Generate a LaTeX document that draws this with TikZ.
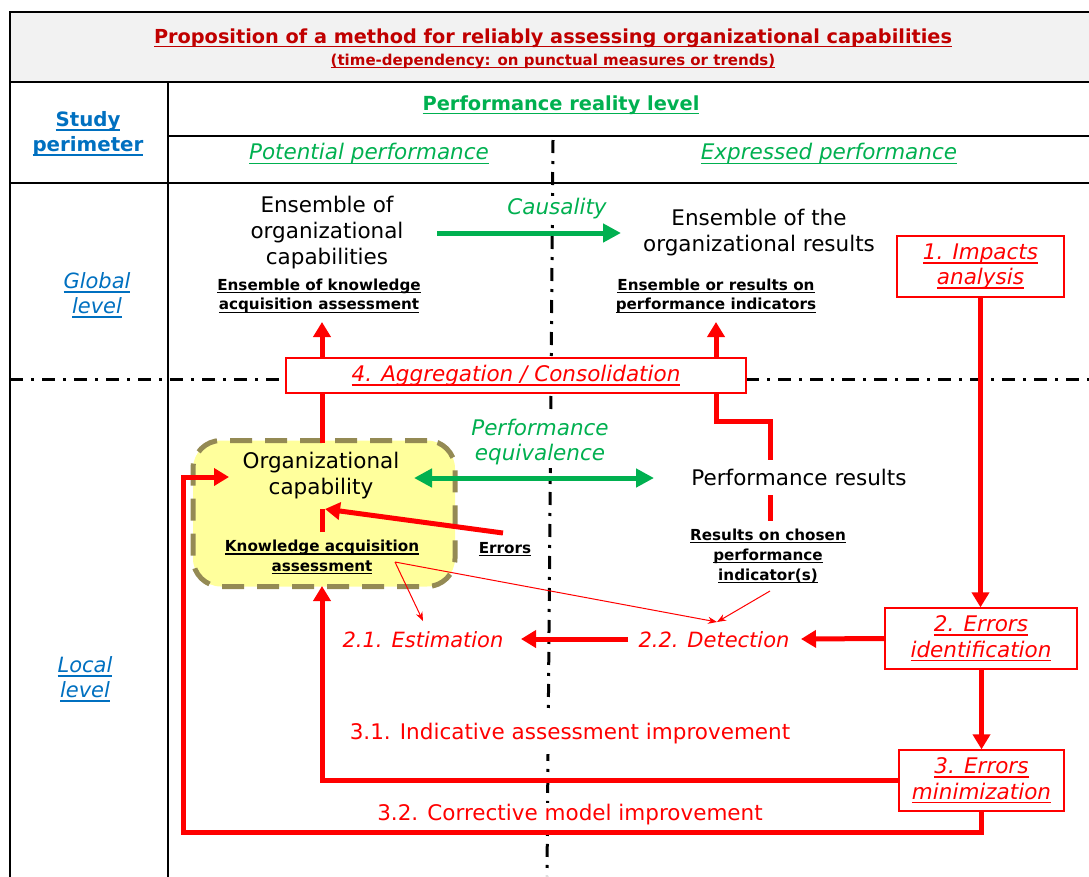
\documentclass[tikz,border=0pt]{standalone}
\usepackage{fontspec}
\setmainfont{DejaVu Sans}
\usetikzlibrary{arrows.meta}
\definecolor{tred}{HTML}{C00000}
\definecolor{ggreen}{HTML}{00B050}
\definecolor{bblue}{HTML}{0070C0}
\definecolor{bandgray}{HTML}{F2F2F2}
\definecolor{yfill}{HTML}{FFFF9C}
\definecolor{yedge}{HTML}{948A54}
\newcommand\myul[1]{\setbox0=\hbox{#1}\leavevmode\rlap{\rule[-0.2em]{\wd0}{0.08em}}\box0}
\tikzset{
  lbl/.style={inner sep=1pt, align=center},
  blk/.style={lbl, font=\fontsize{21.5}{26}\selectfont},
  bul/.style={lbl, font=\bfseries\fontsize{15.2}{19.5}\selectfont},
  rtxt/.style={lbl, text=red, font=\itshape\fontsize{21}{26}\selectfont},
  rbox/.style={draw=red, line width=1.3pt, fill=white, text=red, font=\itshape\fontsize{21.5}{25.5}\selectfont, align=center, inner sep=0pt},
  gtxt/.style={lbl, text=ggreen, font=\itshape\fontsize{21.5}{25}\selectfont},
  btxt/.style={lbl, text=bblue, font=\itshape\fontsize{21}{25}\selectfont},
  thk/.style={draw=red, line width=5pt},
  arr/.style={-{Triangle[length=15pt,width=17pt]}},
  thn/.style={draw=red, line width=1pt, -{Stealth[length=9pt,width=7pt]}},
  grn/.style={draw=ggreen, line width=5pt},
  garr/.style={-{Triangle[length=18pt,width=18pt]}},
  gdbl/.style={{Triangle[length=18pt,width=18pt]}-{Triangle[length=18pt,width=18pt]}},
  ddash/.style={line width=3pt, dash pattern=on 13pt off 8pt on 3pt off 8pt},
  frame/.style={line width=2.5pt, draw=black},
}
\begin{document}
\begin{tikzpicture}[x=1pt,y=-1pt]
\useasboundingbox (0,0) rectangle (1089,876);
\clip (0,0) rectangle (1089,876);
% ---------- grid ----------
\fill[bandgray] (10,12) rectangle (1100,82);
\draw[frame] (10,900) -- (10,12) -- (1100,12);
\draw[frame] (10,82) -- (1100,82);
\draw[frame] (10,183) -- (1100,183);
\draw[frame] (168,136) -- (1100,136);
\draw[frame] (168,82) -- (168,900);
% ---------- dash-dot separators ----------
\draw[ddash] (553,140) -- (547,876);
\draw[ddash] (10,379) -- (1089,379);
% ---------- headers ----------
\node[lbl, text=tred, font=\bfseries\fontsize{19.3}{22}\selectfont] (title) at (553,38) {\myul{Proposition of a method for reliably assessing organizational capabilities}};
\node[lbl, text=tred, font=\bfseries\fontsize{15}{17}\selectfont] (subtitle) at (553,61) {\myul{(time-dependency: on punctual measures or trends)}};
\node[lbl, text=ggreen, font=\bfseries\fontsize{19.4}{22}\selectfont] (reality) at (561,105) {\myul{Performance reality level}};
\node[gtxt] (potential) at (369,154) {\myul{Potential performance}};
\node[gtxt] (expressed) at (829,154) {\myul{Expressed performance}};
\node[lbl, text=bblue, font=\bfseries\fontsize{19.8}{25}\selectfont] (study) at (88,134) {\myul{Study}\\\myul{perimeter}};
\node[btxt] (global) at (97,295) {\myul{Global}\\\myul{level}};
\node[btxt] (local) at (85,679) {\myul{Local}\\\myul{level}};
% ---------- yellow box ----------
\node[draw=yedge, fill=yfill, line width=5pt, dash pattern=on 22pt off 13pt, rounded corners=28pt, minimum width=262pt, minimum height=146pt] (ybox) at (324,513.5) {};
% ---------- global level texts ----------
\node[blk] (ensCap) at (327,233) {Ensemble of\\organizational\\capabilities};
\node[bul] (ensKnow) at (319,296) {\myul{Ensemble of knowledge}\\\myul{acquisition assessment}};
\node[blk] (ensRes) at (759,233) {Ensemble of the\\organizational results};
\node[bul] (ensInd) at (716,296) {\myul{Ensemble or results on}\\\myul{performance indicators}};
\node[rbox, minimum width=167pt, minimum height=61pt] (impacts) at (980.5,266.5) {\myul{1. Impacts}\\\myul{analysis}};
% ---------- aggregation box ----------
\node[rbox, minimum width=460pt, minimum height=35pt] (aggreg) at (516,375.5) {\myul{4. Aggregation / Consolidation}};
% ---------- local level texts ----------
\node[blk] (orgCap) at (321,476) {Organizational\\capability};
\node[bul] (know) at (322,557) {\myul{Knowledge acquisition}\\\myul{assessment}};
\node[bul] (errors) at (505,549) {\myul{Errors}};
\node[blk, fill=white, inner sep=3pt] (perfRes) at (799,477) {Performance results};
\node[bul, font=\bfseries\fontsize{15.2}{20}\selectfont] (resChosen) at (768,556) {\myul{Results on chosen}\\\myul{performance}\\\myul{indicator(s)}};
\node[rbox, minimum width=192pt, minimum height=61pt] (ident) at (981,638.5) {\myul{2. Errors}\\\myul{identification}};
\node[rbox, minimum width=165pt, minimum height=61pt] (minim) at (981.5,780.5) {\myul{3. Errors}\\\myul{minimization}};
\node[rtxt] (detect) at (714,640) {2.2. Detection};
\node[rtxt] (estim) at (423,640) {2.1. Estimation};
% ---------- coordinates ----------
\coordinate (detTip) at (801,639);
\coordinate (detW) at (628,639);
\coordinate (estTip) at (521,639);
\coordinate (kaEnd) at (395,562);
\coordinate (estTip2) at (423,621);
\coordinate (detTip2) at (717,622);
\coordinate (rcB) at (770,591);
\coordinate (capL) at (322,322);
\coordinate (capTop) at (322,443);
\coordinate (indL) at (716,322);
\coordinate (prBend) at (770,421);
\coordinate (prTop) at (770,460);
\coordinate (prBot) at (770,495);
\coordinate (prLow) at (770,521);
\coordinate (kaTop) at (322,532);
\coordinate (join) at (322,509);
\coordinate (errS) at (503,533);
\coordinate (yTip) at (322,586);
\coordinate (loopCorner) at (183,832);
\coordinate (loopTip) at (229,477);
\coordinate (caus1) at (437,233);
\coordinate (caus2) at (621,233);
\coordinate (eq1) at (414,478);
\coordinate (eq2) at (654,478);
% ---------- red connectors ----------
\draw[thk,arr] (impacts.south) -- (impacts.south |- ident.north);
\draw[thk,arr] (ident.south -| minim.north) -- (minim.north);
\draw[thk,arr] (ident.west) -- (detTip);
\draw[thk,arr] (detW) -- (estTip);
\draw[thn] (kaEnd) -- (estTip2);
\draw[thn] (kaEnd) -- (detTip2);
\draw[thn] (rcB) -- (detTip2);
\draw[thk,arr] (capL |- aggreg.north) -- (capL);
\draw[thk] (capTop) -- (capTop |- aggreg.south);
\draw[thk,arr] (indL |- aggreg.north) -- (indL);
\draw[thk] (indL |- aggreg.south) |- (prBend) -- (prTop);
\draw[thk] (prBot) -- (prLow);
\draw[thk] (kaTop) -- (join);
\draw[thk,arr] (errS) -- ([xshift=3pt]join);
\draw[thk,arr] (minim.west) -| (yTip);
\draw[thk,arr] (minim.south) |- (loopCorner) |- (loopTip);
% ---------- green connectors ----------
\draw[grn,garr] (caus1) -- (caus2);
\draw[grn,gdbl] (eq1) -- (eq2);
% ---------- labels over lines ----------
\node[gtxt, fill=white, inner sep=3pt] (causality) at (557,209) {Causality};
\node[gtxt, fill=white, inner sep=3pt] (equiv) at (540,442) {Performance\\equivalence};
\node[lbl, text=red, fill=white, inner xsep=5pt, inner ysep=10pt, font=\fontsize{21.5}{24}\selectfont] (impr1) at (570,734) {3.1. Indicative assessment improvement};
\node[lbl, text=red, fill=white, inner sep=2pt, font=\fontsize{21.5}{24}\selectfont] (impr2) at (570,815) {3.2. Corrective model improvement};
\end{tikzpicture}
\end{document}
